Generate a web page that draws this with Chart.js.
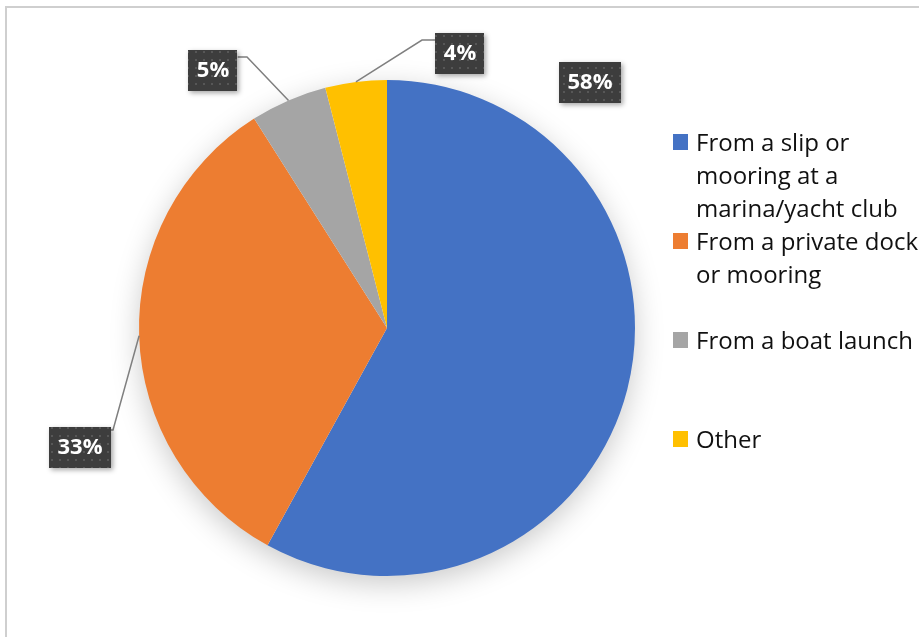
<!DOCTYPE html>
<html>
<head>
<meta charset="utf-8">
<script src="https://cdn.jsdelivr.net/npm/chart.js@4/dist/chart.umd.min.js"></script>
<style>
  body { margin: 0; background: #fff; }
  #wrap { width: 919px; height: 637px; position: relative; }
</style>
</head>
<body>
<div id="wrap"><canvas id="myChart" width="919" height="637"></canvas></div>
<script>
// data
const categories = [
    ['From a slip or', 'mooring at a', 'marina/yacht club'],
    ['From a private dock', 'or mooring'],
    ['From a boat launch'],
    ['Other']
];
const values = [58, 33, 5, 4];
const sliceColors = ['#4472c4', '#ed7d31', '#a5a5a5', '#ffc000'];

// where the dark label boxes sit, relative to the pie centre (dragged like in Excel)
const labelPlace = [
    { box: [203, -246], elbow: null },
    { box: [-307, 119], elbow: [-274, 102] },
    { box: [-174, -258], elbow: [-140, -271] },
    { box: [73, -275], elbow: [35, -288] }
];

const total = values.reduce((a, b) => a + b, 0);

// dotted fill for the label boxes
function dotPattern(ctx) {
    const c = document.createElement('canvas');
    c.width = 8; c.height = 8;
    const p = c.getContext('2d');
    p.fillStyle = '#3d3d3d';
    p.fillRect(0, 0, 8, 8);
    p.fillStyle = '#575757';
    p.fillRect(3, 3, 2, 2);
    return ctx.createPattern(c, 'repeat');
}

const framePlugin = {
    id: 'frame',
    beforeDraw(chart) {
        const ctx = chart.ctx;
        ctx.save();
        ctx.strokeStyle = '#cfcfcf';
        ctx.lineWidth = 2;
        ctx.beginPath();
        ctx.moveTo(6, 700);
        ctx.lineTo(6, 7);
        ctx.lineTo(1000, 7);
        ctx.stroke();
        ctx.restore();
    },
    beforeDatasetsDraw(chart) {
        // soft shadow under the whole pie
        const arc = chart.getDatasetMeta(0).data[0];
        if (!arc) return;
        const ctx = chart.ctx;
        ctx.save();
        ctx.shadowColor = 'rgba(0,0,0,0.22)';
        ctx.shadowBlur = 30;
        ctx.shadowOffsetY = 8;
        ctx.fillStyle = '#fff';
        ctx.beginPath();
        ctx.arc(arc.x, arc.y, arc.outerRadius - 1, 0, Math.PI * 2);
        ctx.fill();
        ctx.restore();
    }
};

const boxLabels = {
    id: 'boxLabels',
    afterDatasetsDraw(chart) {
        const ctx = chart.ctx;
        const arcs = chart.getDatasetMeta(0).data;
        const pat = dotPattern(ctx);
        arcs.forEach((arc, i) => {
            const p = arc.getProps(['x', 'y', 'startAngle', 'endAngle', 'outerRadius'], true);
            const mid = (p.startAngle + p.endAngle) / 2;
            const ax = p.x + Math.cos(mid) * p.outerRadius;
            const ay = p.y + Math.sin(mid) * p.outerRadius;
            const pl = labelPlace[i];
            const bx = p.x + pl.box[0];
            const by = p.y + pl.box[1];
            const txt = Math.round(values[i] / total * 100) + '%';
            ctx.save();
            ctx.font = 'bold 22px "Open Sans"';
            const w = ctx.measureText(txt).width + 17;
            const h = 41;
            // leader line
            if (pl.elbow) {
                const ex = p.x + pl.elbow[0];
                const ey = p.y + pl.elbow[1];
                const edgeX = ex > bx ? bx + w / 2 : bx - w / 2;
                ctx.strokeStyle = '#7f7f7f';
                ctx.lineWidth = 1.5;
                ctx.beginPath();
                ctx.moveTo(ax, ay);
                ctx.lineTo(ex, ey);
                ctx.lineTo(edgeX, ey);
                ctx.stroke();
            }
            ctx.shadowColor = 'rgba(0,0,0,0.35)';
            ctx.shadowBlur = 5;
            ctx.shadowOffsetX = 2;
            ctx.shadowOffsetY = 2;
            ctx.fillStyle = pat;
            ctx.fillRect(Math.round(bx - w / 2), Math.round(by - h / 2), Math.round(w), h);
            ctx.shadowColor = 'transparent';
            ctx.fillStyle = '#fff';
            ctx.textAlign = 'center';
            ctx.textBaseline = 'middle';
            ctx.fillText(txt, bx, by + 1);
            ctx.restore();
        });
    }
};

const sideLegend = {
    id: 'sideLegend',
    afterDraw(chart) {
        const ctx = chart.ctx;
        ctx.save();
        ctx.font = '24px "Open Sans"';
        ctx.textBaseline = 'alphabetic';
        categories.forEach((lines, i) => {
            const top = 134 + i * 99;
            ctx.fillStyle = sliceColors[i];
            ctx.fillRect(673, top, 15, 16);
            ctx.fillStyle = '#111';
            lines.forEach((ln, k) => {
                ctx.fillText(ln, 696, top + 17 + k * 33);
            });
        });
        ctx.restore();
    }
};

new Chart('myChart', {
    type: 'pie',
    data: {
        labels: categories.map(l => l.join(' ')),
        datasets: [{
            data: values,
            backgroundColor: sliceColors,
            borderWidth: 0
        }]
    },
    options: {
        responsive: false,
        devicePixelRatio: 1,
        animation: false,
        layout: { padding: { left: 139, right: 284, top: 80, bottom: 61 } },
        plugins: {
            legend: { display: false },
            tooltip: { enabled: false }
        }
    },
    plugins: [framePlugin, boxLabels, sideLegend]
});
</script>
</body>
</html>
